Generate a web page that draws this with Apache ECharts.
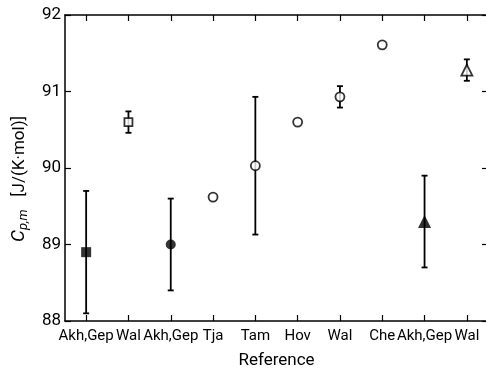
<!DOCTYPE html>
<html>
<head>
<meta charset="utf-8">
<script src="https://cdn.jsdelivr.net/npm/echarts@6/dist/echarts.min.js"></script>
<style>
  html, body { margin: 0; padding: 0; background: #fff; }
  #chart { width: 486px; height: 368px; }
</style>
</head>
<body>
<div id="chart"></div>
<script>
// referências (eixo x) e valores de Cp,m
const references = ['Akh,Gep', 'Wal', 'Akh,Gep', 'Tja', 'Tam', 'Hov', 'Wal', 'Che', 'Akh,Gep', 'Wal'];
const cpValues = [88.9, 90.6, 89.0, 89.62, 90.03, 90.6, 90.93, 91.61, 89.3, 91.28];
const cpErrors = [0.8, 0.14, 0.6, null, 0.9, null, 0.14, null, 0.6, 0.14];
// grupo de cada ponto: forma do marcador + cheio/vazio
const pointGroup = ['square-filled', 'square-open', 'circle-filled', 'circle-open', 'circle-open',
                    'circle-open', 'circle-open', 'circle-open', 'triangle-filled', 'triangle-open'];
const yTicks = [88, 89, 90, 91, 92];

const ink = '#000';
const font = 'Roboto';

const chart = echarts.init(document.getElementById('chart'));

const symbolFor = {
    'square': { symbol: 'rect', open: 8, filled: 10 },
    'circle': { symbol: 'circle', open: 9, filled: 10 },
    'triangle': { symbol: 'triangle', open: 11, filled: 13 }
};

const scatterData = cpValues.map((v, i) => {
    const [shape, fill] = pointGroup[i].split('-');
    const s = symbolFor[shape];
    const filled = fill === 'filled';
    return {
        value: [i, v],
        symbol: s.symbol,
        symbolSize: filled ? s.filled : s.open,
        itemStyle: filled
            ? { color: ink, borderWidth: 0 }
            : { color: '#fff', borderColor: ink, borderWidth: 1.8 }
    };
});

const errorData = [];
cpValues.forEach((v, i) => {
    if (cpErrors[i] != null) errorData.push([i, v - cpErrors[i], v + cpErrors[i]]);
});

const axisLine = { show: true, lineStyle: { color: ink, width: 1.5 } };
const inTicks = { show: true, inside: true, length: 6, lineStyle: { color: ink, width: 1.2 } };

const option = {
    backgroundColor: '#fff',
    animation: false,
    // a moldura direita fica fora da imagem, como no original
    grid: { left: 65, top: 15, right: -2, bottom: 47, outerBoundsMode: 'none', containLabel: false },
    xAxis: [{
        type: 'category',
        data: references,
        position: 'bottom',
        boundaryGap: true,
        name: 'Reference',
        nameLocation: 'middle',
        nameGap: 31,
        nameTextStyle: { fontFamily: font, fontSize: 17, color: ink },
        axisLine: axisLine,
        axisTick: Object.assign({ alignWithLabel: true, interval: 0 }, inTicks),
        axisLabel: { interval: 0, margin: 8, fontFamily: font, fontSize: 15, color: ink },
        splitLine: { show: false }
    }, {
        type: 'category',
        data: references,
        position: 'top',
        boundaryGap: true,
        axisLine: axisLine,
        axisTick: Object.assign({ alignWithLabel: true, interval: 0 }, inTicks),
        axisLabel: { show: false },
        splitLine: { show: false }
    }],
    yAxis: [{
        type: 'value',
        min: yTicks[0],
        max: yTicks[yTicks.length - 1],
        interval: 1,
        position: 'left',
        name: '{c|C}{sub|p,m}   {u|[J/(K·mol)]}',
        nameLocation: 'middle',
        nameRotate: 90,
        nameGap: 35,
        nameTextStyle: {
            fontFamily: font, fontSize: 17, color: ink,
            rich: {
                c: { fontFamily: font, fontStyle: 'italic', fontSize: 19, color: ink },
                sub: { fontFamily: font, fontStyle: 'italic', fontSize: 13, color: ink,
                       verticalAlign: 'bottom', padding: [8, 0, 0, 0] },
                u: { fontFamily: font, fontSize: 17, color: ink, padding: [0, 22, 0, 0] }
            }
        },
        axisLine: axisLine,
        axisTick: inTicks,
        axisLabel: { margin: 4, fontFamily: font, fontSize: 17, color: ink },
        splitLine: { show: false }
    }, {
        type: 'value',
        min: yTicks[0],
        max: yTicks[yTicks.length - 1],
        interval: 1,
        position: 'right',
        axisLine: axisLine,
        axisTick: inTicks,
        axisLabel: { show: false },
        splitLine: { show: false }
    }],
    series: [{
        type: 'custom',
        name: 'erro',
        data: errorData,
        z: 2,
        renderItem: function (params, api) {
            const x = api.value(0);
            const lo = api.coord([x, api.value(1)]);
            const hi = api.coord([x, api.value(2)]);
            const half = 3;
            const style = { stroke: ink, lineWidth: 1.8 };
            return {
                type: 'group',
                children: [
                    { type: 'line', shape: { x1: lo[0], y1: lo[1], x2: hi[0], y2: hi[1] }, style: style },
                    { type: 'line', shape: { x1: lo[0] - half, y1: lo[1], x2: lo[0] + half, y2: lo[1] }, style: style },
                    { type: 'line', shape: { x1: hi[0] - half, y1: hi[1], x2: hi[0] + half, y2: hi[1] }, style: style }
                ]
            };
        }
    }, {
        type: 'scatter',
        name: 'Cp',
        data: scatterData,
        z: 3
    }]
};

chart.setOption(option);
</script>
</body>
</html>
